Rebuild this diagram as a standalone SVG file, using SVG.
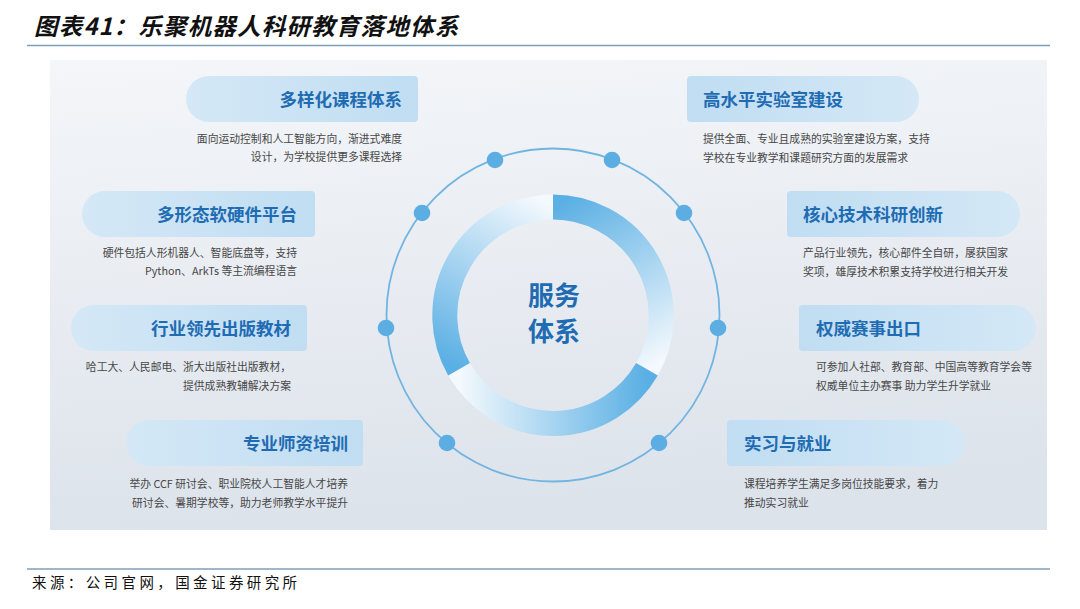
<svg xmlns="http://www.w3.org/2000/svg" width="1080" height="609" viewBox="0 0 1080 609">
<defs>
<linearGradient id="bg" x1="0" y1="0" x2="0.15" y2="1">
<stop offset="0" stop-color="#f4f6f9"/>
<stop offset="1" stop-color="#dde3eb"/>
</linearGradient>
<linearGradient id="pillL" x1="0" y1="0" x2="1" y2="0">
<stop offset="0" stop-color="#d4e8f6"/>
<stop offset="1" stop-color="#c0ddf2"/>
</linearGradient>
<linearGradient id="pillR" x1="0" y1="0" x2="1" y2="0">
<stop offset="0" stop-color="#c0ddf2"/>
<stop offset="1" stop-color="#d4e8f6"/>
</linearGradient>
<linearGradient id="segA" gradientUnits="userSpaceOnUse" x1="553" y1="207" x2="647" y2="370">
<stop offset="0" stop-color="#5aafe4"/>
<stop offset="1" stop-color="#f4f9fd"/>
</linearGradient>
<linearGradient id="segB" gradientUnits="userSpaceOnUse" x1="647" y1="370" x2="459" y2="370">
<stop offset="0" stop-color="#5aafe4"/>
<stop offset="1" stop-color="#f4f9fd"/>
</linearGradient>
<linearGradient id="segC" gradientUnits="userSpaceOnUse" x1="459" y1="370" x2="553" y2="207">
<stop offset="0" stop-color="#5aafe4"/>
<stop offset="1" stop-color="#f4f9fd"/>
</linearGradient>
<style>
.ttl{font-family:"Noto Sans CJK SC","Noto Sans",sans-serif;font-size:17.5px;font-weight:700;fill:#1f6cb3}
.dsc{font-family:"Noto Sans CJK SC","Noto Sans",sans-serif;font-size:10.8px;fill:#474747}
.end{text-anchor:end}
.dot{fill:#5caee2}
.seg{fill:none;stroke-width:25}
.ctr{font-family:"Noto Sans CJK SC",sans-serif;font-size:26px;font-weight:700;fill:#1f6cb3;text-anchor:middle}
</style>
</defs>

<rect width="1080" height="609" fill="#ffffff"/>

<text x="34" y="35" font-family="'Noto Sans CJK SC',sans-serif" font-size="23.5" font-weight="700" font-style="italic" letter-spacing="1.2" fill="#111111">图表41：乐聚机器人科研教育落地体系</text>
<line x1="27" y1="45.5" x2="1050" y2="45.5" stroke="#7e9fb8" stroke-width="1.5"/>

<rect x="50" y="60" width="997" height="470" fill="url(#bg)"/>

<g id="center">
<circle cx="553" cy="315" r="166.5" fill="none" stroke="#72b4e1" stroke-width="1.8"/>
<path class="seg" stroke="url(#segA)" d="M553,207 A108.5,108.5 0 0 1 646.96,369.25"/>
<path class="seg" stroke="url(#segB)" d="M646.96,369.25 A108.5,108.5 0 0 1 459.04,369.25"/>
<path class="seg" stroke="url(#segC)" d="M459.04,369.25 A108.5,108.5 0 0 1 553,207"/>
<circle class="dot" cx="495" cy="160" r="8.3"/>
<circle class="dot" cx="612" cy="160" r="8.3"/>
<circle class="dot" cx="422" cy="213" r="8.3"/>
<circle class="dot" cx="684" cy="213" r="8.3"/>
<circle class="dot" cx="386" cy="328" r="8.3"/>
<circle class="dot" cx="718" cy="328" r="8.3"/>
<circle class="dot" cx="447" cy="443" r="8.3"/>
<circle class="dot" cx="659" cy="443" r="8.3"/>
<text class="ctr" x="554" y="304.5">服务</text>
<text class="ctr" x="554" y="340.5">体系</text>
</g>

<g id="n1">
<path fill="url(#pillL)" d="M209,76 H414 Q418,76 418,80 V118 Q418,122 414,122 H209 A23,23 0 0 1 209,76 Z"/>
<text class="ttl end" x="402" y="106">多样化课程体系</text>
<text class="dsc end" x="402" y="143">面向运动控制和人工智能方向，渐进式难度</text>
<text class="dsc end" x="402" y="161">设计，为学校提供更多课程选择</text>
</g>

<g id="n2">
<path fill="url(#pillL)" d="M105,191 H311 Q315,191 315,195 V233 Q315,237 311,237 H105 A23,23 0 0 1 105,191 Z"/>
<text class="ttl end" x="297" y="221">多形态软硬件平台</text>
<text class="dsc end" x="297" y="257">硬件包括人形机器人、智能底盘等，支持</text>
<text class="dsc end" x="297" y="275">Python、ArkTs 等主流编程语言</text>
</g>

<g id="n3">
<path fill="url(#pillL)" d="M94,305 H303 Q307,305 307,309 V347 Q307,351 303,351 H94 A23,23 0 0 1 94,305 Z"/>
<text class="ttl end" x="291" y="335">行业领先出版教材</text>
<text class="dsc end" x="291" y="371">哈工大、人民邮电、浙大出版社出版教材，</text>
<text class="dsc end" x="291" y="390">提供成熟教辅解决方案</text>
</g>

<g id="n4">
<path fill="url(#pillL)" d="M149,420 H359 Q363,420 363,424 V462 Q363,466 359,466 H149 A23,23 0 0 1 149,420 Z"/>
<text class="ttl end" x="348" y="450">专业师资培训</text>
<text class="dsc end" x="348" y="488">举办 CCF 研讨会、职业院校人工智能人才培养</text>
<text class="dsc end" x="348" y="507">研讨会、暑期学校等，助力老师教学水平提升</text>
</g>

<g id="n5">
<path fill="url(#pillR)" d="M691,76 H896 A23,23 0 0 1 896,122 H691 Q687,122 687,118 V80 Q687,76 691,76 Z"/>
<text class="ttl" x="703" y="106">高水平实验室建设</text>
<text class="dsc" x="703" y="143">提供全面、专业且成熟的实验室建设方案，支持</text>
<text class="dsc" x="703" y="162">学校在专业教学和课题研究方面的发展需求</text>
</g>

<g id="n6">
<path fill="url(#pillR)" d="M791,191 H997 A23,23 0 0 1 997,237 H791 Q787,237 787,233 V195 Q787,191 791,191 Z"/>
<text class="ttl" x="803" y="221">核心技术科研创新</text>
<text class="dsc" x="803" y="257">产品行业领先，核心部件全自研，屡获国家</text>
<text class="dsc" x="803" y="276">奖项，雄厚技术积累支持学校进行相关开发</text>
</g>

<g id="n7">
<path fill="url(#pillR)" d="M803,305 H1013 A23,23 0 0 1 1013,351 H803 Q799,351 799,347 V309 Q799,305 803,305 Z"/>
<text class="ttl" x="816" y="335">权威赛事出口</text>
<text class="dsc" x="816" y="371">可参加人社部、教育部、中国高等教育学会等</text>
<text class="dsc" x="816" y="390">权威单位主办赛事 助力学生升学就业</text>
</g>

<g id="n8">
<path fill="url(#pillR)" d="M731,420 H942 A23,23 0 0 1 942,466 H731 Q727,466 727,462 V424 Q727,420 731,420 Z"/>
<text class="ttl" x="744" y="450">实习与就业</text>
<text class="dsc" x="744" y="488">课程培养学生满足多岗位技能要求，着力</text>
<text class="dsc" x="744" y="507">推动实习就业</text>
</g>

<g id="connectors"></g>

<line x1="27" y1="569" x2="1050" y2="569" stroke="#7e9fb8" stroke-width="1.5"/>
<text x="32" y="588" font-family="'Noto Sans CJK SC',serif" font-size="14.5" letter-spacing="3.4" fill="#111111">来源：公司官网，国金证券研究所</text>
</svg>
